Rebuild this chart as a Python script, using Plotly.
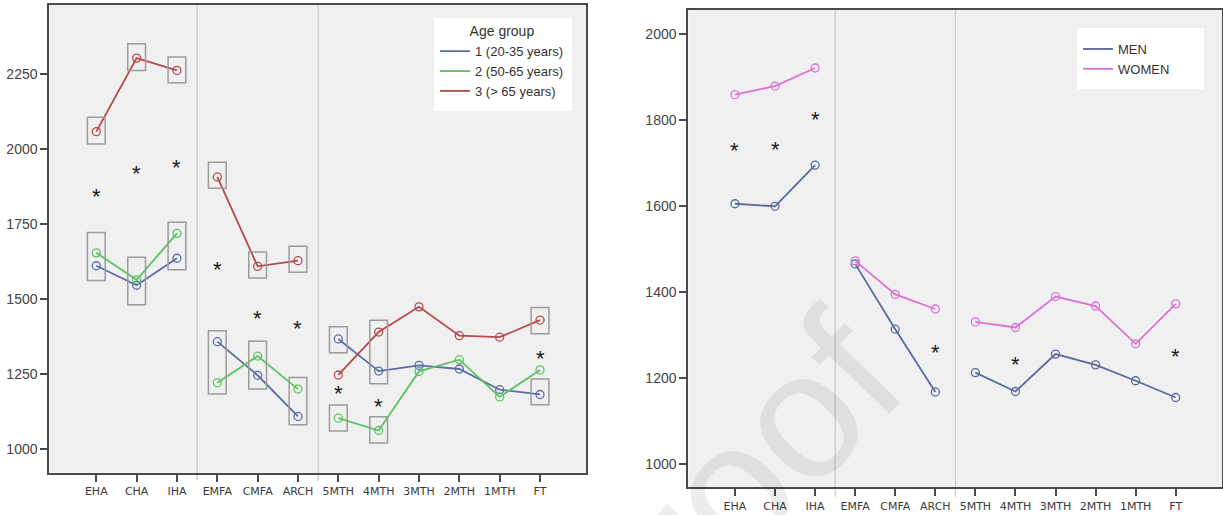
import plotly.graph_objects as go

# ---------------- data ----------------
categories = ["EHA", "CHA", "IHA", "EMFA", "CMFA", "ARCH",
              "5MTH", "4MTH", "3MTH", "2MTH", "1MTH", "FT"]
sections = [3, 3, 6]

# Left panel: age groups
age1 = [1611, 1546, 1636, 1358, 1246, 1109, 1367, 1260, 1279, 1267, 1198, 1182]
age2 = [1654, 1564, 1719, 1221, 1310, 1200, 1103, 1062, 1259, 1298, 1174, 1264]
age3 = [2058, 2303, 2262, 1907, 1609, 1628, 1247, 1390, 1474, 1378, 1373, 1430]
age_names = ["1 (20-35 years)", "2 (50-65 years)", "3 (> 65 years)"]

box_cat = ["EHA", "CHA", "IHA", "EHA", "CHA", "IHA", "EMFA", "CMFA", "ARCH",
           "EMFA", "CMFA", "ARCH", "5MTH", "4MTH", "5MTH", "4MTH", "FT", "FT"]
box_lo = [2017, 2262, 2221, 1562, 1481, 1598, 1869, 1570, 1589,
          1184, 1200, 1081, 1321, 1218, 1060, 1020, 1384, 1148]
box_hi = [2106, 2351, 2307, 1722, 1639, 1756, 1956, 1657, 1676,
          1394, 1359, 1239, 1408, 1429, 1147, 1108, 1472, 1234]

age_star_cat = ["EHA", "CHA", "IHA", "EMFA", "CMFA", "ARCH", "5MTH", "4MTH", "FT"]
age_star_y = [1859, 1934, 1956, 1614, 1453, 1417, 1203, 1159, 1318]

# Right panel: sex
men = [1605, 1599, 1695, 1465, 1313, 1167, 1212, 1168, 1255, 1230, 1193, 1154]
women = [1859, 1879, 1921, 1472, 1394, 1360, 1330, 1317, 1389, 1367, 1279, 1372]
sex_names = ["MEN", "WOMEN"]

sex_star_cat = ["EHA", "CHA", "IHA", "ARCH", "4MTH", "FT"]
sex_star_y = [1740, 1742, 1812, 1270, 1242, 1262]

left_yticks = [1000, 1250, 1500, 1750, 2000, 2250]
right_yticks = [1000, 1200, 1400, 1600, 1800, 2000]

# ---------------- styling ----------------
W, H = 1223, 515
FONT = "Liberation Sans, Arial, sans-serif"
XFONT = "DejaVu Sans, Verdana, sans-serif"
age_colors = ["#5b6ca8", "#5cc262", "#b44a4c"]
sex_colors = ["#5a6a9e", "#de6fd6"]
XRANGE = [-1.165, 12.15]
idx = {c: i for i, c in enumerate(categories)}


def broken(vals):
    xs, ys = [], []
    i = 0
    for n in sections:
        xs += list(range(i, i + n)) + [None]
        ys += list(vals[i:i + n]) + [None]
        i += n
    return xs, ys


fig = go.Figure()


def add_series(vals, name, col, xa, ya, lg):
    xs, ys = broken(vals)
    fig.add_trace(go.Scatter(
        x=xs, y=ys, name=name, mode="lines+markers", showlegend=False,
        line=dict(color=col, width=1.8),
        marker=dict(symbol="circle-open", size=8, color=col, line=dict(width=1.3)),
        xaxis=xa, yaxis=ya, connectgaps=False))
    # legend entry (line only, like the original)
    fig.add_trace(go.Scatter(
        x=[None], y=[None], name=name, mode="lines",
        line=dict(color=col, width=1.8), xaxis=xa, yaxis=ya, legend=lg))


for vals, name, col in zip([age1, age2, age3], age_names, age_colors):
    add_series(vals, name, col, "x", "y", "legend")
for vals, name, col in zip([men, women], sex_names, sex_colors):
    add_series(vals, name, col, "x2", "y2", "legend2")

shapes = []
# section separators
bounds = []
acc = 0
for n in sections[:-1]:
    acc += n
    bounds.append(acc - 0.5)
for xa, ya, ext in [("x", "y", 0.017), ("x2", "y2", 0.02)]:
    for b in bounds:
        fx = (b - XRANGE[0]) / (XRANGE[1] - XRANGE[0])
        shapes.append(dict(type="line", xref=f"{xa} domain", yref=f"{ya} domain",
                           x0=fx, x1=fx, y0=-ext, y1=1,
                           line=dict(color="#c9c9c9", width=1.2), layer="below"))

# boxes around points (left panel)
for c, lo, hi in zip(box_cat, box_lo, box_hi):
    shapes.append(dict(type="rect", xref="x", yref="y",
                       x0=idx[c] - 0.22, x1=idx[c] + 0.22, y0=lo, y1=hi,
                       line=dict(color="#9c9c9c", width=1.5), fillcolor="rgba(0,0,0,0)"))


def prect(x0, y0, x1, y1):
    return dict(type="rect", xref="paper", yref="paper",
                x0=x0 / W, x1=x1 / W, y0=1 - y1 / H, y1=1 - y0 / H,
                fillcolor="white", line=dict(width=0), layer="above")


shapes.append(prect(434, 18, 572, 111))
shapes.append(prect(1077, 28, 1204, 89))

annotations = []
# watermark (drawn first so it sits under the other annotations)
annotations.append(dict(x=718 / W, y=1 - 500 / H, xref="paper", yref="paper",
                        xanchor="center", yanchor="middle",
                        text="Proof", showarrow=False, textangle=-46,
                        font=dict(size=180, color="rgba(0,0,0,0.07)", family=FONT)))
for c, y in zip(age_star_cat, age_star_y):
    annotations.append(dict(x=idx[c], y=y, xref="x", yref="y", text="*",
                            showarrow=False, yshift=-5,
                            font=dict(size=22, color="#1a1a1a", family=FONT)))
for c, y in zip(sex_star_cat, sex_star_y):
    annotations.append(dict(x=idx[c], y=y, xref="x2", yref="y2", text="*",
                            showarrow=False, yshift=-5,
                            font=dict(size=22, color="#1a1a1a", family=FONT)))

axis_common = dict(showline=True, mirror=True, linecolor="#4a4a4a", linewidth=2,
                   ticks="outside", ticklen=7, tickwidth=1.5, tickcolor="#4a4a4a",
                   showgrid=False, zeroline=False, automargin=False)
xfont = dict(family=XFONT, size=11, color="#3a3a3a")
yfont = dict(family=FONT, size=14, color="#444444")

fig.update_layout(
    width=W, height=H,
    margin=dict(l=0, r=0, t=0, b=0, autoexpand=False),
    paper_bgcolor="white", plot_bgcolor="#f0f0f0",
    font=dict(family=FONT, size=12, color="#333333"),
    xaxis=dict(domain=[49.3 / W, 586.4 / W], range=XRANGE, anchor="y",
               tickmode="array", tickvals=list(range(len(categories))),
               ticktext=categories, tickfont=xfont, **axis_common),
    yaxis=dict(domain=[1 - 472.5 / H, 1 - 5 / H], range=[922, 2480], anchor="x",
               tickmode="array", tickvals=left_yticks, tickfont=yfont, **axis_common),
    xaxis2=dict(domain=[688.3 / W, 1221.8 / W], range=XRANGE, anchor="y2",
                tickmode="array", tickvals=list(range(len(categories))),
                ticktext=categories, tickfont=xfont, **axis_common),
    yaxis2=dict(domain=[1 - 487.3 / H, 1 - 10 / H], range=[945, 2056], anchor="x2",
                tickmode="array", tickvals=right_yticks, tickfont=yfont, **axis_common),
    legend=dict(x=435 / W, y=1 - 18 / H, xanchor="left", yanchor="top",
                bgcolor="rgba(0,0,0,0)",
                title=dict(text="Age group", side="top center",
                           font=dict(family=FONT, size=14, color="#333333")),
                font=dict(family=FONT, size=13, color="#333333"),
                tracegroupgap=0),
    legend2=dict(x=1078 / W, y=1 - 34 / H, xanchor="left", yanchor="top",
                 bgcolor="rgba(0,0,0,0)",
                 font=dict(family=FONT, size=13, color="#333333")),
    shapes=shapes,
    annotations=annotations,
    showlegend=True,
)

fig.write_html(
    "out.html",
    config={"displayModeBar": False},
    post_script="document.body.style.margin='0';document.body.style.padding='0';",
)
